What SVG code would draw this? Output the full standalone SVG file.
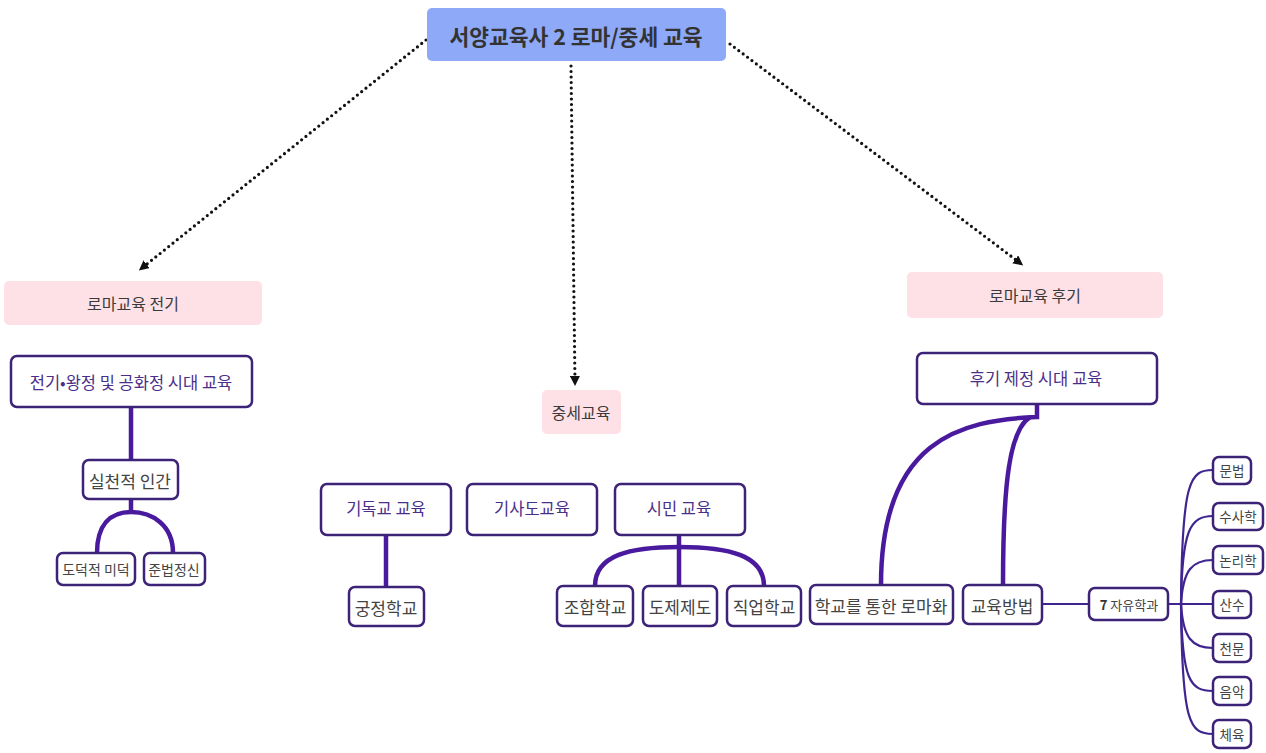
<svg xmlns="http://www.w3.org/2000/svg" width="1266" height="753" viewBox="0 0 1266 753">
<style>
text{font-family:"Noto Sans CJK KR","Noto Sans",sans-serif;text-anchor:middle;dominant-baseline:central}
.pink{fill:#fde1e7}
.pt{fill:#3a3a3a;font-size:16px}
.box{fill:#fff;stroke:#3d2378;stroke-width:2.5}
.hd{fill:#4a2f8a;font-size:16.5px}
.lf{fill:#444;font-size:17px}
.sm{fill:#444;font-size:14px}
.xs{fill:#444;font-size:13.5px}
.dot{fill:none;stroke:#111;stroke-width:3.2;stroke-linecap:round;stroke-dasharray:0 5.5}
.th{fill:none;stroke:#4a1a9e;stroke-width:4.5}
.tn{fill:none;stroke:#3f2590;stroke-width:2.2}
</style>
<defs>
<marker id="ah" markerWidth="10" markerHeight="10" refX="6" refY="5" orient="auto" markerUnits="userSpaceOnUse">
<path d="M0,0 L10,5 L0,10 Z" fill="#111"/>
</marker>
</defs>
<g id="connectors">
<path class="dot" d="M426,40 L142,268" marker-end="url(#ah)"/>
<path class="dot" d="M571,66 L575,382" marker-end="url(#ah)"/>
<path class="dot" d="M730,44 L1020,263" marker-end="url(#ah)"/>
<path class="th" d="M131,407 L131,460"/>
<path class="th" d="M131,499 L131,512"/>
<path class="th" d="M97,553 C97,525 110,512 131,512 C152,512 173,525 173,553"/>
<path class="th" d="M386,535 L386,587"/>
<path class="th" d="M679,535 L679,586"/>
<path class="th" d="M595,586 C595,555 630,547 679,547 C728,547 764,555 764,586"/>
<path class="th" d="M1037,404 L1037,417 C960,420 881,440 881,585"/>
<path class="th" d="M1030,417 C1010,430 1003,480 1003,585"/>
<path class="tn" d="M1042,604 L1089,604"/>
<path class="tn" d="M1168,604 L1212,604"/>
<path class="tn" d="M1181,604 C1182,480 1190,470 1213,470"/>
<path class="tn" d="M1181,604 C1182,530 1190,516 1213,516"/>
<path class="tn" d="M1181,604 C1183,570 1192,560 1213,560"/>
<path class="tn" d="M1181,604 C1183,638 1192,648 1213,648"/>
<path class="tn" d="M1181,604 C1182,680 1190,691 1213,691"/>
<path class="tn" d="M1181,604 C1182,725 1190,734 1213,734"/>
</g>
<g id="title">
<rect x="427" y="8" width="299" height="53" rx="5" fill="#8ea9f7"/>
<text x="576" y="35" style="font-size:21.5px;font-weight:bold;fill:#333">서양교육사 2 로마/중세 교육</text>
</g>
<g id="n-early">
<rect class="pink" x="4" y="281" width="258" height="44" rx="5"/>
<text class="pt" x="133" y="303">로마교육 전기</text>
</g>
<g id="n-early-edu">
<rect class="box" x="11" y="356" width="241" height="51" rx="6"/>
<text class="hd" x="131" y="382">전기•왕정 및 공화정 시대 교육</text>
</g>
<g id="n-practical">
<rect class="box" x="83" y="460" width="95" height="39" rx="6"/>
<text class="lf" x="130" y="480">실천적 인간</text>
</g>
<g id="n-moral">
<rect class="box" x="57" y="553" width="78" height="32" rx="6"/>
<text class="sm" x="96" y="569">도덕적 미덕</text>
</g>
<g id="n-law">
<rect class="box" x="144" y="553" width="61" height="32" rx="6"/>
<text class="sm" x="174" y="569">준법정신</text>
</g>
<g id="n-medieval">
<rect class="pink" x="542" y="390" width="79" height="44" rx="5"/>
<text class="pt" x="581" y="412">중세교육</text>
</g>
<g id="n-christian">
<rect class="box" x="321" y="484" width="130" height="51" rx="6"/>
<text class="hd" x="386" y="508">기독교 교육</text>
</g>
<g id="n-chivalry">
<rect class="box" x="467" y="484" width="130" height="51" rx="6"/>
<text class="hd" x="532" y="508">기사도교육</text>
</g>
<g id="n-civic">
<rect class="box" x="615" y="484" width="130" height="51" rx="6"/>
<text class="hd" x="679" y="508">시민 교육</text>
</g>
<g id="n-court">
<rect class="box" x="349" y="587" width="75" height="39" rx="6"/>
<text class="lf" x="386" y="607">궁정학교</text>
</g>
<g id="n-guild">
<rect class="box" x="557" y="586" width="76" height="40" rx="6"/>
<text class="lf" x="595" y="606">조합학교</text>
</g>
<g id="n-apprentice">
<rect class="box" x="643" y="586" width="74" height="40" rx="6"/>
<text class="lf" x="680" y="606">도제제도</text>
</g>
<g id="n-vocational">
<rect class="box" x="727" y="586" width="74" height="40" rx="6"/>
<text class="lf" x="764" y="606">직업학교</text>
</g>
<g id="n-late">
<rect class="pink" x="907" y="272" width="256" height="46" rx="5"/>
<text class="pt" x="1035" y="295">로마교육 후기</text>
</g>
<g id="n-late-edu">
<rect class="box" x="917" y="353" width="240" height="51" rx="6"/>
<text class="hd" x="1036" y="378">후기 제정 시대 교육</text>
</g>
<g id="n-romanize">
<rect class="box" x="810" y="585" width="143" height="39" rx="6"/>
<text class="lf" x="881" y="605">학교를 통한 로마화</text>
</g>
<g id="n-method">
<rect class="box" x="963" y="585" width="79" height="39" rx="6"/>
<text class="lf" x="1002" y="605">교육방법</text>
</g>
<g id="n-liberal">
<rect class="box" x="1089" y="588" width="79" height="32" rx="6"/>
<text x="1129" y="604" style="font-size:13px;fill:#444"><tspan style="font-weight:bold;fill:#333">7</tspan> 자유학과</text>
</g>
<g id="n-grammar"><rect class="box" x="1213" y="457" width="38" height="27" rx="6"/><text class="xs" x="1232" y="470">문법</text></g>
<g id="n-rhetoric"><rect class="box" x="1213" y="503" width="50" height="27" rx="6"/><text class="xs" x="1238" y="516">수사학</text></g>
<g id="n-logic"><rect class="box" x="1213" y="546" width="50" height="28" rx="6"/><text class="xs" x="1238" y="560">논리학</text></g>
<g id="n-arith"><rect class="box" x="1213" y="591" width="38" height="27" rx="6"/><text class="xs" x="1232" y="604">산수</text></g>
<g id="n-astro"><rect class="box" x="1213" y="634" width="38" height="28" rx="6"/><text class="xs" x="1232" y="648">천문</text></g>
<g id="n-music"><rect class="box" x="1213" y="677" width="38" height="28" rx="6"/><text class="xs" x="1232" y="691">음악</text></g>
<g id="n-pe"><rect class="box" x="1213" y="720" width="38" height="28" rx="6"/><text class="xs" x="1232" y="734">체육</text></g>
</svg>
